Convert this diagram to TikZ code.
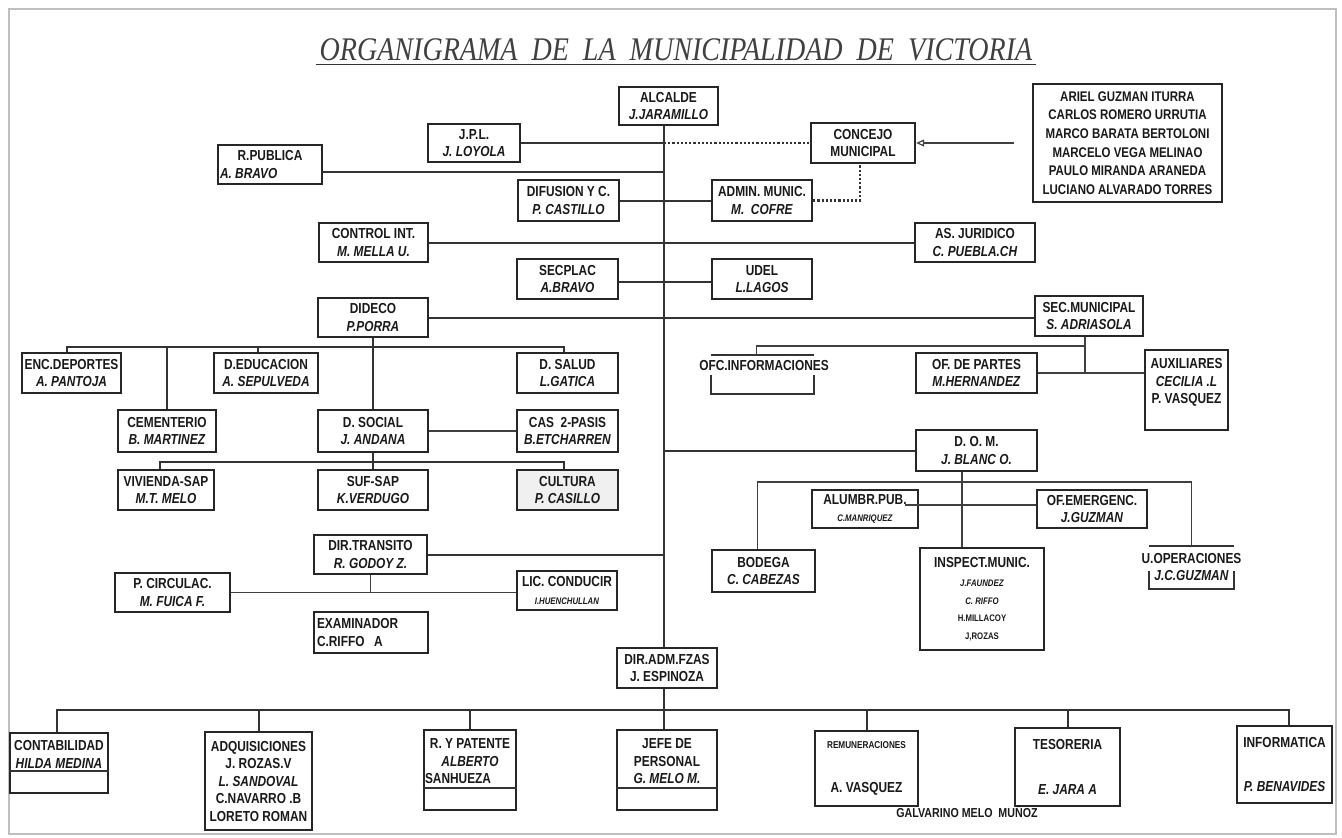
\documentclass[tikz,border=0pt]{standalone}
\usepackage{fontspec}
\usepackage{tikz}
\usetikzlibrary{shapes,arrows.meta}
\newfontfamily\orgfont[FakeStretch=0.82]{Liberation Sans}
\newfontfamily\titlefont[FakeStretch=0.85]{Liberation Serif}
\newcommand{\chico}{\fontsize{9.5}{17.5}\selectfont}
\tikzstyle{line} = [draw, line width=2pt, color=black!80]
\tikzstyle{thinline} = [draw, line width=1.2pt, color=black!75]
\tikzstyle{dotline} = [draw, line width=2.2pt, dotted, color=black!80]
\tikzstyle{unit} = [rectangle, draw=black!85, line width=2.3pt, fill=white,
  text=black!90, align=center, minimum width=100pt, minimum height=40pt,
  inner sep=0pt, font=\orgfont\bfseries\fontsize{14.5}{17.5}\selectfont]
\tikzstyle{openunit} = [unit, draw=none, fill=none]

\begin{document}
\begin{tikzpicture}[x=1pt, y=-1pt, auto]
  \useasboundingbox (0,0) rectangle (1342,838);
  \draw [black!25, line width=1.5pt] (9,9) rectangle (1336,834);

  \node [text=black!75, font=\titlefont\itshape\fontsize{33}{36}\selectfont] (title) at (676,50)
    {ORGANIGRAMA\ \ DE\ \ LA\ \ MUNICIPALIDAD\ \ DE\ \ VICTORIA};

  \node [unit, minimum width=99pt, minimum height=38pt] (alcalde) at (668.5,106) {ALCALDE\\\textit{J.JARAMILLO}};
  \node [unit, minimum width=92pt, minimum height=38pt] (jpl) at (474,143) {J.P.L.\\\textit{J. LOYOLA}};
  \node [unit, minimum width=104pt] (concejo) at (863,143) {CONCEJO\\MUNICIPAL};
  \node [unit, minimum width=189pt, minimum height=118pt, font=\orgfont\bfseries\fontsize{14}{18.7}\selectfont] (concejales) at (1127.5,143)
    {ARIEL GUZMAN ITURRA\\CARLOS ROMERO URRUTIA\\MARCO BARATA BERTOLONI\\MARCELO VEGA MELINAO\\PAULO MIRANDA ARANEDA\\LUCIANO ALVARADO TORRES};
  \node [unit, minimum width=104pt, minimum height=39pt] (rpublica) at (270,164.5) {R.PUBLICA\\\makebox[100pt][l]{\textit{A. BRAVO}}};
  \node [unit, minimum width=101pt, minimum height=41pt] (difusion) at (568.5,200.5) {DIFUSION Y C.\\\textit{P. CASTILLO}};
  \node [unit, minimum height=41pt] (admin) at (762,200.5) {ADMIN. MUNIC.\\\textit{M.\ \ COFRE}};
  \node [unit, minimum width=109pt, minimum height=39pt] (control) at (373.5,242.5) {CONTROL INT.\\\textit{M. MELLA U.}};
  \node [unit, minimum width=120pt, minimum height=39pt] (juridico) at (975,242.5) {AS. JURIDICO\\\textit{C. PUEBLA.CH}};
  \node [unit, minimum width=101pt] (secplac) at (567.5,279) {SECPLAC\\\textit{A.BRAVO}};
  \node [unit] (udel) at (762,279) {UDEL\\\textit{L.LAGOS}};
  \node [unit, minimum width=110pt, minimum height=39pt] (dideco) at (373,317.5) {DIDECO\\\textit{P.PORRA}};
  \node [unit, minimum width=108pt] (secmun) at (1089,316) {SEC.MUNICIPAL\\\textit{S. ADRIASOLA}};

  \node [unit, minimum width=99pt] (encdep) at (71.5,373) {ENC.DEPORTES\\\textit{A. PANTOJA}};
  \node [unit, minimum width=104pt] (deduc) at (266,373) {D.EDUCACION\\\textit{A. SEPULVEDA}};
  \node [unit, minimum width=101pt] (dsalud) at (567.5,373) {D. SALUD\\\textit{L.GATICA}};
  \node [openunit, minimum width=101pt, minimum height=37pt] (ofcinfo) at (762.5,374.5) {};
  \node [openunit, minimum width=0pt, minimum height=0pt] (ofcinfotxt) at (764,366) {OFC.INFORMACIONES};
  \node [unit, minimum width=121pt] (ofpartes) at (976.5,373) {OF. DE PARTES\\\textit{M.HERNANDEZ}};
  \node [unit, minimum width=83pt, minimum height=80pt] (auxil) at (1186.5,390) {AUXILIARES\\\textit{CECILIA .L}\\P. VASQUEZ\\\mbox{}};
  \node [unit, minimum width=98pt, minimum height=42pt] (cementerio) at (167,431) {CEMENTERIO\\\textit{B. MARTINEZ}};
  \node [unit, minimum width=110pt, minimum height=42pt] (dsocial) at (373,431) {D. SOCIAL\\\textit{J. ANDANA}};
  \node [unit, minimum width=101pt, minimum height=42pt] (cas) at (567.5,431) {CAS\ \ 2-PASIS\\\textit{B.ETCHARREN}};
  \node [unit, minimum width=121pt, minimum height=41pt] (dom) at (976.5,450.5) {D. O. M.\\\textit{J. BLANC O.}};
  \node [unit, minimum width=96pt] (vivienda) at (166,490) {VIVIENDA-SAP\\\textit{M.T. MELO}};
  \node [unit, minimum width=110pt] (sufsap) at (373,490) {SUF-SAP\\\textit{K.VERDUGO}};
  \node [unit, minimum width=101pt, fill=black!6] (cultura) at (567.5,490) {CULTURA\\\textit{P. CASILLO}};
  \node [unit, minimum width=106pt, minimum height=38pt] (alumbr) at (865,509) {ALUMBR.PUB.\\\chico\textit{C.MANRIQUEZ}};
  \node [unit, minimum width=110pt, minimum height=38pt] (ofemerg) at (1092,509) {OF.EMERGENC.\\\textit{J.GUZMAN}};

  \node [unit, minimum width=113pt, minimum height=39pt] (dirtrans) at (370.5,554.5) {DIR.TRANSITO\\\textit{R. GODOY Z.}};
  \node [unit, minimum width=103pt, minimum height=42pt] (bodega) at (763.5,571) {BODEGA\\\textit{C. CABEZAS}};
  \node [unit, minimum width=124pt, minimum height=102pt] (inspect) at (982,599)
    {INSPECT.MUNIC.\\[2pt]\chico\textit{J.FAUNDEZ}\\\chico\textit{C. RIFFO}\\\chico H.MILLACOY\\\chico J,ROZAS};
  \node [openunit, minimum width=83pt, minimum height=41pt] (uoper) at (1191.5,567.5) {};
  \node [openunit, minimum width=0pt, minimum height=0pt] (uopertxt) at (1191.5,567) {U.OPERACIONES\\\textit{J.C.GUZMAN}};
  \node [unit, minimum width=115pt, minimum height=39pt] (pcirc) at (172.5,592.5) {P. CIRCULAC.\\\textit{M. FUICA F.}};
  \node [unit, minimum height=39pt] (liccond) at (567,590.5) {LIC. CONDUCIR\\\chico\textit{I.HUENCHULLAN}};
  \node [unit, align=left, text width=108pt, inner sep=3pt, minimum height=41pt] (examin) at (371,632.5) {EXAMINADOR\\C.RIFFO\ \ A};
  \node [unit] (dirfzas) at (667,668) {DIR.ADM.FZAS\\J. ESPINOZA};

  \node [unit, minimum width=98pt, minimum height=60pt] (contab) at (59,763) {CONTABILIDAD\\\textit{HILDA MEDINA}\\\mbox{}};
  \node [unit, minimum width=107pt, minimum height=98pt] (adquis) at (258.5,781)
    {ADQUISICIONES\\J. ROZAS.V\\\textit{L. SANDOVAL}\\C.NAVARRO .B\\LORETO ROMAN};
  \node [unit, minimum width=92pt, minimum height=80pt] (rpatente) at (470,770) {R. Y PATENTE\\\textit{ALBERTO}\\\makebox[90pt][l]{SANHUEZA}\\\mbox{}};
  \node [unit, minimum height=80pt] (jefe) at (667,770) {JEFE DE\\PERSONAL\\\textit{G. MELO M.}\\\mbox{}};
  \node [unit, minimum width=103pt, minimum height=75pt] (remun) at (866.5,768.5) {\fontsize{10}{17.5}\selectfont REMUNERACIONES\\[27pt]A. VASQUEZ};
  \node [unit, minimum width=105pt, minimum height=78pt] (tesor) at (1067.5,767) {TESORERIA\\[27pt]\textit{E. JARA A}};
  \node [unit, minimum width=95pt, minimum height=77pt] (inform) at (1284.5,764.5) {INFORMATICA\\[27pt]\textit{P. BENAVIDES}};
  \node [openunit, minimum width=0pt, minimum height=0pt, font=\orgfont\bfseries\fontsize{13}{14}\selectfont] (firma) at (967,812) {GALVARINO MELO\ \ MUÑOZ};

  \coordinate (spine) at (664,125);
  \coordinate (busdideco) at (373,347);
  \coordinate (bussocial) at (373,462);
  \coordinate (busofc) at (1085,346);
  \coordinate (secjoin) at (1085,372);
  \coordinate (busdom) at (962,482);
  \coordinate (busfzas) at (664,710);

  \path [line, line width=1pt] ([yshift=-4pt]title.base west) -- ([yshift=-4pt]title.base east);
  \path [line, line width=2.4pt] (alcalde.south -| spine) -- (dirfzas.north -| spine);
  \path [line] (jpl.east) -- (jpl.east -| spine);
  \path [dotline] (jpl.east -| spine) -- (concejo.west);
  \path [thinline, -{Triangle[open, length=8pt, width=7pt]}, shorten <=18pt] (concejales.west) -- (concejo.east);
  \path [dotline] (admin.east) -| ([xshift=-3pt]concejo.south);
  \path [line] ([yshift=-7pt]rpublica.east) -- ([yshift=-7pt]rpublica.east -| spine);
  \path [line] (difusion.east) -- (admin.west);
  \path [line] (control.east) -- (juridico.west);
  \path [line] ([yshift=-3pt]secplac.east) -- ([yshift=-3pt]udel.west);
  \path [line] (dideco.east) -- (dideco.east -| secmun.west);
  \path [line] (dom.west -| spine) -- (dom.west);
  \path [line] (dirtrans.east) -- (dirtrans.east -| spine);

  \path [line] (dideco.south) -- (dsocial.north);
  \path [line] ([xshift=-5pt]encdep.north) |- (busdideco) -| ([xshift=-4pt]dsalud.north);
  \path [line] (cementerio.north) -- (cementerio.north |- busdideco);
  \path [line] ([xshift=-8pt]deduc.north) -- ([xshift=-8pt]deduc.north |- busdideco);
  \path [thinline] (dsocial.east) -- (cas.west);
  \path [line] ([xshift=-6pt]vivienda.north) |- (bussocial) -| ([xshift=-4pt]cultura.north);
  \path [line] (dsocial.south) -- (sufsap.north);

  \path [thinline] (secmun.south -| secjoin) -- (secjoin);
  \path [thinline] (busofc) -| ([xshift=-6pt]ofcinfo.north);
  \path [thinline] (ofpartes.east) -- (ofpartes.east -| auxil.west);
  \path [line] (ofcinfo.north west) -- (ofcinfo.north east);
  \path [line] (ofcinfo.west) -- (ofcinfo.south west) -- (ofcinfo.south east) -- (ofcinfo.east);

  \path [thinline] (dom.south -| busdom) -- (inspect.north -| busdom);
  \path [thinline] ([xshift=-6pt]bodega.north) |- (busdom) -| (uoper.north);
  \path [thinline] ([xshift=-14pt, yshift=4pt]alumbr.east) -- ([yshift=4pt]alumbr.east -| ofemerg.west);
  \path [line] (uoper.north west) -- (uoper.north east);
  \path [line] ([yshift=-3pt]uoper.west) -- (uoper.south west) -- (uoper.south east) -- ([yshift=-3pt]uoper.east);

  \path [thinline] (pcirc.east) -- (pcirc.east -| liccond.west);
  \path [thinline] (dirtrans.south) -- (dirtrans.south |- pcirc.east);

  \path [line] (dirfzas.south -| spine) -- (jefe.north -| spine);
  \path [line] ([xshift=-2pt]contab.north) |- (busfzas) -| ([xshift=4pt]inform.north);
  \path [line] (adquis.north) -- (adquis.north |- busfzas);
  \path [line] (rpatente.north) -- (rpatente.north |- busfzas);
  \path [line] (remun.north) -- (remun.north |- busfzas);
  \path [line] (tesor.north) -- (tesor.north |- busfzas);
  \path [line] ([yshift=23pt]contab.south west) -- ([yshift=23pt]contab.south east);
  \path [line] ([yshift=23pt]rpatente.south west) -- ([yshift=23pt]rpatente.south east);
  \path [line] ([yshift=23pt]jefe.south west) -- ([yshift=23pt]jefe.south east);

\end{tikzpicture}
\end{document}
